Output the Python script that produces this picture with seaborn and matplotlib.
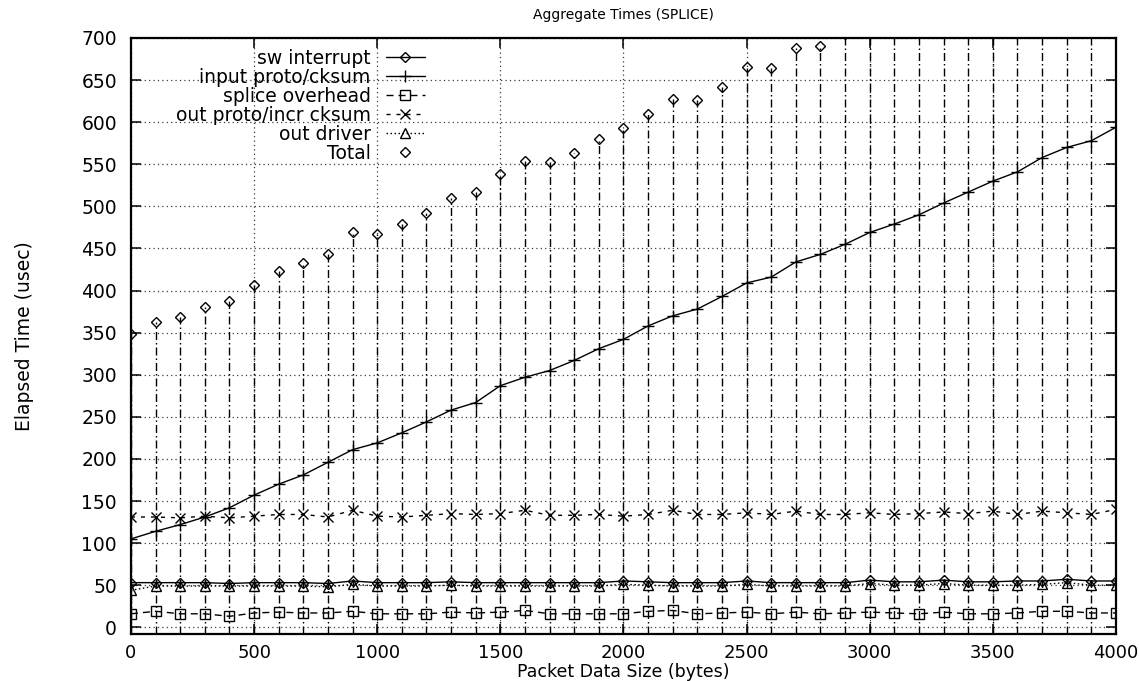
import matplotlib
matplotlib.use("Agg")
import matplotlib.pyplot as plt
import seaborn as sns
import numpy as np

# ---------------- data ----------------
packet_size = [0, 100, 200, 300, 400, 500, 600, 700, 800, 900,
               1000, 1100, 1200, 1300, 1400, 1500, 1600, 1700, 1800, 1900,
               2000, 2100, 2200, 2300, 2400, 2500, 2600, 2700, 2800, 2900,
               3000, 3100, 3200, 3300, 3400, 3500, 3600, 3700, 3800, 3900, 4000]

sw_interrupt = [53, 53, 53, 53, 52, 53, 53, 53, 52, 55,
                53, 53, 53, 54, 53, 53, 53, 53, 53, 53,
                55, 54, 53, 53, 53, 55, 53, 53, 53, 53,
                56, 54, 54, 56, 54, 54, 55, 55, 57, 55, 55]

input_proto = [105, 114, 122, 131, 142, 157, 170, 181, 196, 211,
               219, 231, 244, 258, 267, 287, 297, 305, 317, 331,
               342, 358, 370, 378, 393, 409, 416, 434, 443, 455,
               469, 479, 490, 504, 517, 530, 541, 558, 570, 578, 594]

splice_overhead = [16, 19, 16, 16, 13, 17, 18, 17, 17, 19,
                   16, 16, 16, 18, 17, 18, 20, 16, 16, 16,
                   16, 19, 20, 16, 17, 18, 16, 18, 16, 17,
                   18, 17, 16, 18, 16, 16, 17, 19, 19, 17, 17]

out_proto = [131, 131, 130, 132, 130, 132, 134, 134, 131, 139,
             132, 131, 133, 135, 134, 135, 139, 133, 133, 134,
             132, 134, 139, 134, 134, 136, 134, 138, 134, 134,
             136, 134, 135, 137, 135, 138, 134, 138, 136, 134, 140]

out_driver = [44, 49, 49, 49, 49, 49, 49, 49, 48, 51,
              49, 49, 49, 50, 49, 49, 49, 49, 49, 49,
              51, 50, 49, 49, 49, 51, 49, 49, 49, 49,
              52, 50, 50, 52, 50, 50, 50, 51, 53, 50, 50]

total = [348, 363, 369, 380, 388, 407, 423, 433, 444, 470,
         467, 479, 492, 510, 517, 538, 554, 553, 563, 580,
         593, 610, 627, 626, 642, 665, 664, 688, 691, 705,
         722, 732, 742, 760, 768, 785, 792, 810, 826, 831, 850]

series_labels = ["sw interrupt", "input proto/cksum", "splice overhead",
                 "out proto/incr cksum", "out driver", "Total"]

x_ticks = [0, 500, 1000, 1500, 2000, 2500, 3000, 3500, 4000]
y_ticks = [0, 50, 100, 150, 200, 250, 300, 350, 400, 450, 500, 550, 600, 650, 700]

# ---------------- style ----------------
sns.set_style("ticks")
plt.rcParams["font.family"] = ["DejaVu Sans"]
plt.rcParams["lines.scale_dashes"] = False
plt.rcParams["text.color"] = "black"
plt.rcParams["axes.labelcolor"] = "black"
plt.rcParams["xtick.color"] = "black"
plt.rcParams["ytick.color"] = "black"

fig = plt.figure(figsize=(11.39, 6.81), dpi=100)
ax = fig.add_axes([0.1150, 0.0690, 0.8648, 0.8752])

YMIN, YMAX = -8, 700
PX = 0.72  # one pixel in points

# impulses for Total (dash-dot)
ax.vlines(packet_size, YMIN, total, colors="black", linewidth=1.0,
          linestyles=[(0, (8 * PX, 3 * PX, 1.5 * PX, 3 * PX))], zorder=2)

common = dict(color="black", markeredgecolor="black", markerfacecolor="none",
              markeredgewidth=1.0, linewidth=1.0, ax=ax, zorder=3)

sns.lineplot(x=packet_size, y=sw_interrupt, marker="D", markersize=5.5,
             linestyle="-", label=series_labels[0], **common)
sns.lineplot(x=packet_size, y=input_proto, marker="+", markersize=9,
             linestyle="-", label=series_labels[1], **common)
sns.lineplot(x=packet_size, y=splice_overhead, marker="s", markersize=6.5,
             linestyle=(0, (7 * PX, 5 * PX)), label=series_labels[2], **common)
sns.lineplot(x=packet_size, y=out_proto, marker="x", markersize=7.5,
             linestyle=(0, (4 * PX, 6 * PX)), label=series_labels[3], **common)
sns.lineplot(x=packet_size, y=out_driver, marker="^", markersize=7,
             linestyle=(0, (1.5 * PX, 2.5 * PX)), label=series_labels[4], **common)
sns.lineplot(x=packet_size, y=total, marker="D", markersize=5.5,
             linestyle="none", label=series_labels[5], **common)

ax.set_xlim(0, 4000)
ax.set_ylim(YMIN, YMAX)
ax.set_xticks(x_ticks)
ax.set_yticks(y_ticks)

ax.grid(True, color="black", linewidth=0.9, linestyle=(0, (1.2 * PX, 3.2 * PX)), alpha=0.8)
ax.set_axisbelow(True)

for s in ax.spines.values():
    s.set_visible(True)
    s.set_linewidth(1.6)
    s.set_color("black")

ax.tick_params(axis="both", which="major", direction="in", length=7, width=1.1,
               top=True, right=True, labelsize=13.5, colors="black", pad=10)
ax.tick_params(axis="x", pad=7, labelsize=13)

ax.set_title("Aggregate Times (SPLICE)", fontsize=10, pad=14)
ax.set_xlabel("Packet Data Size (bytes)", fontsize=12.5)
ax.set_ylabel("Elapsed Time (usec)", fontsize=13.5)
ax.xaxis.set_label_coords(0.5, -0.049)
ax.yaxis.set_label_coords(-0.098, 0.5)

leg = ax.legend(loc="upper right", bbox_to_anchor=(0.2985, 0.982), frameon=False,
                markerfirst=False, fontsize=13.5, handlelength=2.1,
                handletextpad=0.8, labelspacing=0.0, borderpad=0,
                borderaxespad=0)

fig.savefig("out.png", dpi=100)
